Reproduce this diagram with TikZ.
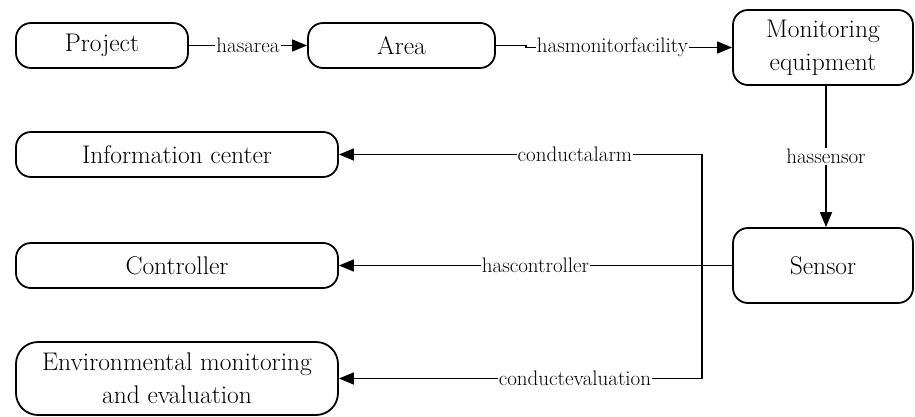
\documentclass[tikz,border=0pt]{standalone}
\usetikzlibrary{arrows.meta}
\begin{document}
\begin{tikzpicture}[x=1pt,y=-1pt,
  box/.style={draw, line width=1.8pt, rounded corners=15pt, align=center,
    font=\fontsize{25.5}{33}\selectfont, inner sep=0pt},
  lbl/.style={fill=white, inner sep=1pt, font=\fontsize{21}{24}\selectfont},
  arr/.style={line width=1.5pt, -{Triangle[length=15pt,width=12pt]}}]
\useasboundingbox (0,0) rectangle (915,417);
\node[box, minimum width=172pt, minimum height=45pt] (project) at (102,45.5) {Project};
\node[box, minimum width=187pt, minimum height=45pt] (area) at (401.5,45.5) {Area};
\node[box, minimum width=180pt, minimum height=75pt] (mon) at (823,47.5) {Monitoring\\equipment};
\node[box, minimum width=180pt, minimum height=75pt] (sensor) at (823,265.5) {Sensor};
\node[box, minimum width=322pt, minimum height=45pt] (info) at (177,154.5) {Information center};
\node[box, minimum width=322pt, minimum height=45pt] (ctrl) at (177,265.5) {Controller};
\node[box, minimum width=322pt, minimum height=73pt, rounded corners=22pt] (env) at (177,378.5) {Environmental monitoring\\and evaluation};
\coordinate (j) at (702,265.5);
\draw[arr] (project) -- node[lbl]{hasarea} (area);
\draw[arr] (area.east) -- ++(30,0) |- node[lbl, pos=0.71]{hasmonitorfacility} (mon.west);
\draw[arr] ([xshift=3pt]mon.south) -- node[lbl]{hassensor} ([xshift=3pt]sensor.north);
\draw[arr] (sensor) -- node[lbl]{hascontroller} (ctrl);
\draw[arr] (j) |- node[lbl, pos=0.675]{conductalarm} (info);
\draw[arr] (j) |- node[lbl, pos=0.675]{conductevaluation} (env);
\end{tikzpicture}
\end{document}
